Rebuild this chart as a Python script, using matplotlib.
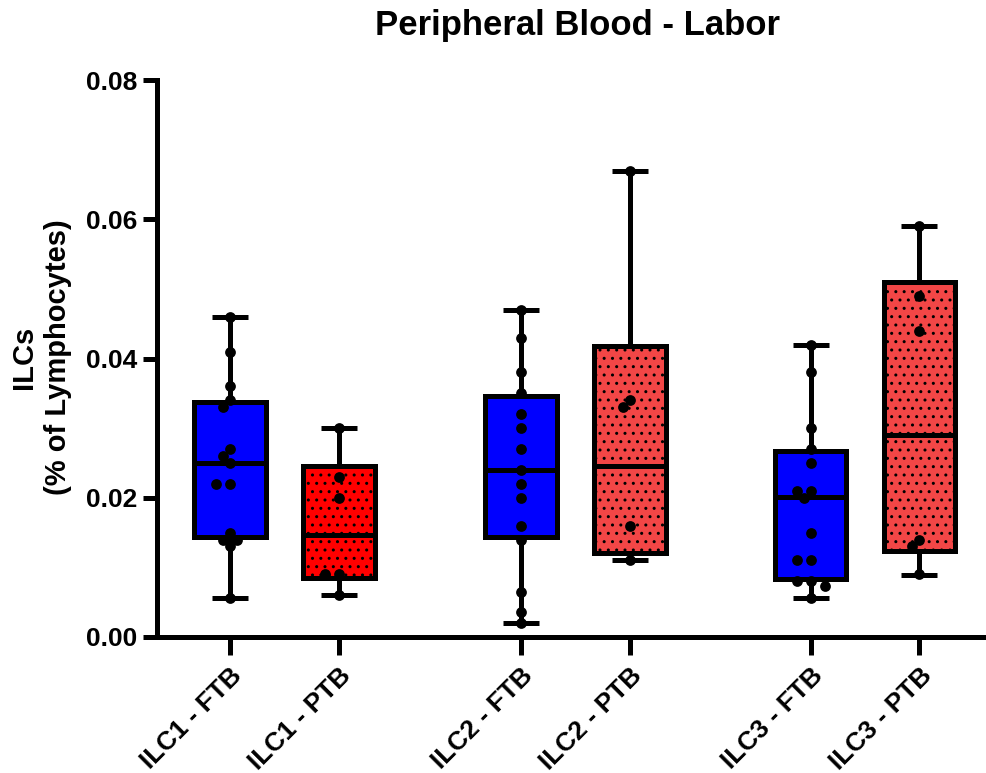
import matplotlib
matplotlib.use('Agg')
import matplotlib.pyplot as plt
import numpy as np

plt.rcParams['font.family'] = ['Liberation Sans', 'DejaVu Sans']
plt.rcParams['font.weight'] = 'bold'
plt.rcParams['hatch.linewidth'] = 1.0
plt.rcParams['hatch.color'] = 'black'

# groups and x positions (gap between ILC pairs)
labels = ['ILC1 - FTB', 'ILC1 - PTB', 'ILC2 - FTB', 'ILC2 - PTB', 'ILC3 - FTB', 'ILC3 - PTB']
positions = [0, 1, 2.67, 3.67, 5.33, 6.33]

# box stats: min, q1, median, q3, max
box_min = [0.0056, 0.0060, 0.0020, 0.0110, 0.0056, 0.0089]
box_q1 = [0.0144, 0.0085, 0.0143, 0.0121, 0.0084, 0.0123]
box_med = [0.0250, 0.0147, 0.0240, 0.0246, 0.0201, 0.0290]
box_q3 = [0.0337, 0.0245, 0.0346, 0.0418, 0.0267, 0.0510]
box_max = [0.0460, 0.0300, 0.0470, 0.0670, 0.0420, 0.0590]

# individual samples
ilc1_ftb = [0.046, 0.041, 0.036, 0.034, 0.033, 0.027, 0.026, 0.025, 0.022, 0.022,
            0.015, 0.014, 0.014, 0.013, 0.0056]
ilc1_ptb = [0.030, 0.023, 0.020, 0.009, 0.009, 0.006]
ilc2_ftb = [0.047, 0.043, 0.038, 0.035, 0.032, 0.030, 0.027, 0.024, 0.022, 0.020,
            0.016, 0.014, 0.0065, 0.0036, 0.002]
ilc2_ptb = [0.067, 0.034, 0.033, 0.016, 0.011]
ilc3_ftb = [0.042, 0.038, 0.030, 0.027, 0.025, 0.021, 0.021, 0.020, 0.015, 0.011,
            0.011, 0.008, 0.008, 0.0073, 0.0056]
ilc3_ptb = [0.059, 0.049, 0.044, 0.014, 0.013, 0.009]
samples = [ilc1_ftb, ilc1_ptb, ilc2_ftb, ilc2_ptb, ilc3_ftb, ilc3_ptb]

face_colors = ['#0000ff', '#ff0000', '#0000ff', '#f24646', '#0000ff', '#f24646']
hatches = ['', '..', '', '..', '', '..']

W, H = 987, 773
fig = plt.figure(figsize=(W / 100, H / 100), dpi=100)
ax = fig.add_axes([157 / W, 1 - 637 / H, 1 - 157 / W, (637 - 80) / H])
ax.set_xlim(-0.67, 6.95)
ax.set_ylim(0, 0.08)

stats = []
for i in range(len(labels)):
    stats.append({'whislo': box_min[i], 'q1': box_q1[i], 'med': box_med[i],
                  'q3': box_q3[i], 'whishi': box_max[i], 'fliers': []})

lw = 3.6
bp = ax.bxp(stats, positions=positions, widths=0.66, capwidths=0.33,
            patch_artist=True, showfliers=False,
            boxprops=dict(linewidth=lw, edgecolor='black'),
            whiskerprops=dict(linewidth=lw, color='black', solid_capstyle='butt'),
            capprops=dict(linewidth=lw, color='black', solid_capstyle='butt'),
            medianprops=dict(linewidth=lw, color='black', solid_capstyle='butt'))
for patch, fc, h in zip(bp['boxes'], face_colors, hatches):
    patch.set_facecolor(fc)
    patch.set_hatch(h)
    patch.set_zorder(2)


def swarm(values, center, px_x, px_y, step=7, min_dist=9):
    # simple beeswarm: spread points sideways when they would overlap
    placed = []
    xs = []
    for v in values:
        for k in [0, -1, 1, -2, 2, -3, 3]:
            off = k * step
            ok = all(np.hypot(off - po, (v - pv) * px_y) >= min_dist for po, pv in placed)
            if ok:
                break
        placed.append((off, v))
        xs.append(center + off / px_x)
    return xs


px_x = (W - 157) / (6.95 + 0.67)
px_y = (637 - 80) / 0.08
for vals, pos in zip(samples, positions):
    xs = swarm(vals, pos, px_x, px_y)
    ax.scatter(xs, vals, s=60, color='black', zorder=4, linewidths=0)

for side in ['top', 'right']:
    ax.spines[side].set_visible(False)
for side in ['left', 'bottom']:
    ax.spines[side].set_linewidth(lw)

ax.set_yticks([0, 0.02, 0.04, 0.06, 0.08])
ax.set_yticklabels(['0.00', '0.02', '0.04', '0.06', '0.08'])
ax.set_xticks(positions)
ax.set_xticklabels(labels, rotation=45, ha='right', rotation_mode='anchor')
ax.tick_params(axis='both', width=lw, labelsize=19)
ax.tick_params(axis='y', length=10, pad=4)
ax.tick_params(axis='x', length=13, pad=6)

fig.text(41 / W, 1 - 357 / H, 'ILCs\n(% of Lymphocytes)', rotation=90,
         ha='center', va='center', fontsize=21, fontweight='bold',
         multialignment='center', linespacing=1.3)
fig.text(578 / W, 1 - 25 / H, 'Peripheral Blood - Labor', ha='center', va='center',
         fontsize=25, fontweight='bold')

fig.savefig('out.png', dpi=100)
